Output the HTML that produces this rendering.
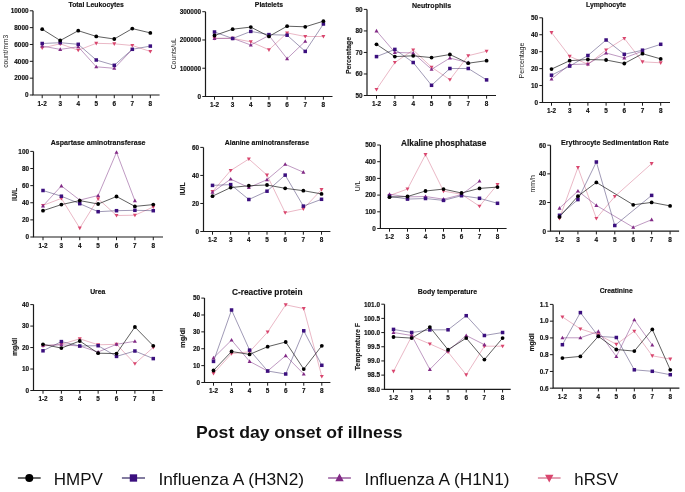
<!DOCTYPE html>
<html><head><meta charset="utf-8"><style>
html,body{margin:0;padding:0;background:#fff;}
svg{display:block;will-change:transform;}
text{font-family:"Liberation Sans",sans-serif;}
</style></head><body>
<svg width="685" height="492" viewBox="0 0 685 492">
<rect width="685" height="492" fill="#fff"/>
<g><path d="M33 10.8V95H159.6" fill="none" stroke="#1a1a1a" stroke-width="1.2"/><path d="M29.8 95H33" stroke="#1a1a1a" stroke-width="1.0"/><text x="28.5" y="97.3" text-anchor="end" font-size="6.4" font-weight="bold" fill="#111" stroke="#111" stroke-width="0.15">0</text><path d="M29.8 78.16H33" stroke="#1a1a1a" stroke-width="1.0"/><text x="28.5" y="80.46" text-anchor="end" font-size="6.4" font-weight="bold" fill="#111" stroke="#111" stroke-width="0.15">2000</text><path d="M29.8 61.32H33" stroke="#1a1a1a" stroke-width="1.0"/><text x="28.5" y="63.62" text-anchor="end" font-size="6.4" font-weight="bold" fill="#111" stroke="#111" stroke-width="0.15">4000</text><path d="M29.8 44.48H33" stroke="#1a1a1a" stroke-width="1.0"/><text x="28.5" y="46.78" text-anchor="end" font-size="6.4" font-weight="bold" fill="#111" stroke="#111" stroke-width="0.15">6000</text><path d="M29.8 27.64H33" stroke="#1a1a1a" stroke-width="1.0"/><text x="28.5" y="29.94" text-anchor="end" font-size="6.4" font-weight="bold" fill="#111" stroke="#111" stroke-width="0.15">8000</text><path d="M29.8 10.8H33" stroke="#1a1a1a" stroke-width="1.0"/><text x="28.5" y="13.1" text-anchor="end" font-size="6.4" font-weight="bold" fill="#111" stroke="#111" stroke-width="0.15">10000</text><path d="M42.2 95v3.2" stroke="#1a1a1a" stroke-width="1.0"/><text x="42.2" y="105.7" text-anchor="middle" font-size="6.4" font-weight="bold" fill="#111" stroke="#111" stroke-width="0.15">1-2</text><path d="M60.22 95v3.2" stroke="#1a1a1a" stroke-width="1.0"/><text x="60.22" y="105.7" text-anchor="middle" font-size="6.4" font-weight="bold" fill="#111" stroke="#111" stroke-width="0.15">3</text><path d="M78.24 95v3.2" stroke="#1a1a1a" stroke-width="1.0"/><text x="78.24" y="105.7" text-anchor="middle" font-size="6.4" font-weight="bold" fill="#111" stroke="#111" stroke-width="0.15">4</text><path d="M96.26 95v3.2" stroke="#1a1a1a" stroke-width="1.0"/><text x="96.26" y="105.7" text-anchor="middle" font-size="6.4" font-weight="bold" fill="#111" stroke="#111" stroke-width="0.15">5</text><path d="M114.28 95v3.2" stroke="#1a1a1a" stroke-width="1.0"/><text x="114.28" y="105.7" text-anchor="middle" font-size="6.4" font-weight="bold" fill="#111" stroke="#111" stroke-width="0.15">6</text><path d="M132.3 95v3.2" stroke="#1a1a1a" stroke-width="1.0"/><text x="132.3" y="105.7" text-anchor="middle" font-size="6.4" font-weight="bold" fill="#111" stroke="#111" stroke-width="0.15">7</text><path d="M150.32 95v3.2" stroke="#1a1a1a" stroke-width="1.0"/><text x="150.32" y="105.7" text-anchor="middle" font-size="6.4" font-weight="bold" fill="#111" stroke="#111" stroke-width="0.15">8</text><text x="96.2" y="7.2" text-anchor="middle" font-size="6.85" font-weight="bold" fill="#111" stroke="#111" stroke-width="0.15">Total Leukocytes</text><text transform="translate(7.9 51.2) rotate(-90)" text-anchor="middle" font-size="6.7" font-weight="normal" fill="#1a1a1a">count/mm3</text><path d="M42.2 48L60.22 43.8L78.24 50.2L96.26 43.3L114.28 43.8L132.3 45.5L150.32 51.5" fill="none" stroke="#d4708c" stroke-width="0.5"/><path d="M42.2 46L60.22 49.4L78.24 46.8L96.26 66.8L114.28 68.3L132.3 49.5" fill="none" stroke="#8a4590" stroke-width="0.55"/><path d="M42.2 43.5L60.22 42.7L78.24 44.3L96.26 60L114.28 65.3L132.3 49.3L150.32 46.1" fill="none" stroke="#40356c" stroke-width="0.5"/><path d="M42.2 29.2L60.22 40.5L78.24 30.7L96.26 36.4L114.28 39L132.3 28.6L150.32 32.9" fill="none" stroke="#1a1a1a" stroke-width="0.7"/><path d="M42.2 50.1L44.2 46.5L40.2 46.5Z" fill="#d9466e"/><path d="M60.22 45.9L62.22 42.3L58.22 42.3Z" fill="#d9466e"/><path d="M78.24 52.3L80.24 48.7L76.24 48.7Z" fill="#d9466e"/><path d="M96.26 45.4L98.26 41.8L94.26 41.8Z" fill="#d9466e"/><path d="M114.28 45.9L116.28 42.3L112.28 42.3Z" fill="#d9466e"/><path d="M132.3 47.6L134.3 44L130.3 44Z" fill="#d9466e"/><path d="M150.32 53.6L152.32 50L148.32 50Z" fill="#d9466e"/><path d="M42.2 43.9L44.2 47.5L40.2 47.5Z" fill="#822a86"/><path d="M60.22 47.3L62.22 50.9L58.22 50.9Z" fill="#822a86"/><path d="M78.24 44.7L80.24 48.3L76.24 48.3Z" fill="#822a86"/><path d="M96.26 64.7L98.26 68.3L94.26 68.3Z" fill="#822a86"/><path d="M114.28 66.2L116.28 69.8L112.28 69.8Z" fill="#822a86"/><path d="M132.3 47.4L134.3 51L130.3 51Z" fill="#822a86"/><rect x="40.45" y="41.75" width="3.5" height="3.5" fill="#3b0f7e"/><rect x="58.47" y="40.95" width="3.5" height="3.5" fill="#3b0f7e"/><rect x="76.49" y="42.55" width="3.5" height="3.5" fill="#3b0f7e"/><rect x="94.51" y="58.25" width="3.5" height="3.5" fill="#3b0f7e"/><rect x="112.53" y="63.55" width="3.5" height="3.5" fill="#3b0f7e"/><rect x="130.55" y="47.55" width="3.5" height="3.5" fill="#3b0f7e"/><rect x="148.57" y="44.35" width="3.5" height="3.5" fill="#3b0f7e"/><circle cx="42.2" cy="29.2" r="1.9" fill="#000000"/><circle cx="60.22" cy="40.5" r="1.9" fill="#000000"/><circle cx="78.24" cy="30.7" r="1.9" fill="#000000"/><circle cx="96.26" cy="36.4" r="1.9" fill="#000000"/><circle cx="114.28" cy="39" r="1.9" fill="#000000"/><circle cx="132.3" cy="28.6" r="1.9" fill="#000000"/><circle cx="150.32" cy="32.9" r="1.9" fill="#000000"/></g><g><path d="M205.5 11.7V96.5H332.5" fill="none" stroke="#1a1a1a" stroke-width="1.2"/><path d="M202.3 96.5H205.5" stroke="#1a1a1a" stroke-width="1.0"/><text x="201" y="98.8" text-anchor="end" font-size="6.4" font-weight="bold" fill="#111" stroke="#111" stroke-width="0.15">0</text><path d="M202.3 68.23H205.5" stroke="#1a1a1a" stroke-width="1.0"/><text x="201" y="70.53" text-anchor="end" font-size="6.4" font-weight="bold" fill="#111" stroke="#111" stroke-width="0.15">100000</text><path d="M202.3 39.97H205.5" stroke="#1a1a1a" stroke-width="1.0"/><text x="201" y="42.27" text-anchor="end" font-size="6.4" font-weight="bold" fill="#111" stroke="#111" stroke-width="0.15">200000</text><path d="M202.3 11.7H205.5" stroke="#1a1a1a" stroke-width="1.0"/><text x="201" y="14" text-anchor="end" font-size="6.4" font-weight="bold" fill="#111" stroke="#111" stroke-width="0.15">300000</text><path d="M214.5 96.5v3.2" stroke="#1a1a1a" stroke-width="1.0"/><text x="214.5" y="107.2" text-anchor="middle" font-size="6.4" font-weight="bold" fill="#111" stroke="#111" stroke-width="0.15">1-2</text><path d="M232.65 96.5v3.2" stroke="#1a1a1a" stroke-width="1.0"/><text x="232.65" y="107.2" text-anchor="middle" font-size="6.4" font-weight="bold" fill="#111" stroke="#111" stroke-width="0.15">3</text><path d="M250.8 96.5v3.2" stroke="#1a1a1a" stroke-width="1.0"/><text x="250.8" y="107.2" text-anchor="middle" font-size="6.4" font-weight="bold" fill="#111" stroke="#111" stroke-width="0.15">4</text><path d="M268.95 96.5v3.2" stroke="#1a1a1a" stroke-width="1.0"/><text x="268.95" y="107.2" text-anchor="middle" font-size="6.4" font-weight="bold" fill="#111" stroke="#111" stroke-width="0.15">5</text><path d="M287.1 96.5v3.2" stroke="#1a1a1a" stroke-width="1.0"/><text x="287.1" y="107.2" text-anchor="middle" font-size="6.4" font-weight="bold" fill="#111" stroke="#111" stroke-width="0.15">6</text><path d="M305.25 96.5v3.2" stroke="#1a1a1a" stroke-width="1.0"/><text x="305.25" y="107.2" text-anchor="middle" font-size="6.4" font-weight="bold" fill="#111" stroke="#111" stroke-width="0.15">7</text><path d="M323.4 96.5v3.2" stroke="#1a1a1a" stroke-width="1.0"/><text x="323.4" y="107.2" text-anchor="middle" font-size="6.4" font-weight="bold" fill="#111" stroke="#111" stroke-width="0.15">8</text><text x="268.95" y="7.4" text-anchor="middle" font-size="6.85" font-weight="bold" fill="#111" stroke="#111" stroke-width="0.15">Platelets</text><text transform="translate(175.53 53.8) rotate(-90)" text-anchor="middle" font-size="6.8" font-weight="normal" fill="#1a1a1a">Counts/uL</text><path d="M214.5 38.3L232.65 38.3L250.8 41.8L268.95 49.8L287.1 32.9L305.25 36.5L323.4 36.5" fill="none" stroke="#d4708c" stroke-width="0.5"/><path d="M214.5 38.5L232.65 38.3L250.8 45L268.95 35.5L287.1 58.7L305.25 41.3" fill="none" stroke="#8a4590" stroke-width="0.55"/><path d="M214.5 32L232.65 38.5L250.8 31.4L268.95 34.6L287.1 35.2L305.25 51.4L323.4 24" fill="none" stroke="#40356c" stroke-width="0.5"/><path d="M214.5 35.5L232.65 29.2L250.8 27.1L268.95 36.4L287.1 26.2L305.25 26.8L323.4 21.2" fill="none" stroke="#1a1a1a" stroke-width="0.7"/><path d="M214.5 40.4L216.5 36.8L212.5 36.8Z" fill="#d9466e"/><path d="M232.65 40.4L234.65 36.8L230.65 36.8Z" fill="#d9466e"/><path d="M250.8 43.9L252.8 40.3L248.8 40.3Z" fill="#d9466e"/><path d="M268.95 51.9L270.95 48.3L266.95 48.3Z" fill="#d9466e"/><path d="M287.1 35L289.1 31.4L285.1 31.4Z" fill="#d9466e"/><path d="M305.25 38.6L307.25 35L303.25 35Z" fill="#d9466e"/><path d="M323.4 38.6L325.4 35L321.4 35Z" fill="#d9466e"/><path d="M214.5 36.4L216.5 40L212.5 40Z" fill="#822a86"/><path d="M232.65 36.2L234.65 39.8L230.65 39.8Z" fill="#822a86"/><path d="M250.8 42.9L252.8 46.5L248.8 46.5Z" fill="#822a86"/><path d="M268.95 33.4L270.95 37L266.95 37Z" fill="#822a86"/><path d="M287.1 56.6L289.1 60.2L285.1 60.2Z" fill="#822a86"/><path d="M305.25 39.2L307.25 42.8L303.25 42.8Z" fill="#822a86"/><rect x="212.75" y="30.25" width="3.5" height="3.5" fill="#3b0f7e"/><rect x="230.9" y="36.75" width="3.5" height="3.5" fill="#3b0f7e"/><rect x="249.05" y="29.65" width="3.5" height="3.5" fill="#3b0f7e"/><rect x="267.2" y="32.85" width="3.5" height="3.5" fill="#3b0f7e"/><rect x="285.35" y="33.45" width="3.5" height="3.5" fill="#3b0f7e"/><rect x="303.5" y="49.65" width="3.5" height="3.5" fill="#3b0f7e"/><rect x="321.65" y="22.25" width="3.5" height="3.5" fill="#3b0f7e"/><circle cx="214.5" cy="35.5" r="1.9" fill="#000000"/><circle cx="232.65" cy="29.2" r="1.9" fill="#000000"/><circle cx="250.8" cy="27.1" r="1.9" fill="#000000"/><circle cx="268.95" cy="36.4" r="1.9" fill="#000000"/><circle cx="287.1" cy="26.2" r="1.9" fill="#000000"/><circle cx="305.25" cy="26.8" r="1.9" fill="#000000"/><circle cx="323.4" cy="21.2" r="1.9" fill="#000000"/></g><g><path d="M367 9.4V95.5H496" fill="none" stroke="#1a1a1a" stroke-width="1.2"/><path d="M363.8 95.5H367" stroke="#1a1a1a" stroke-width="1.0"/><text x="362.5" y="97.8" text-anchor="end" font-size="6.4" font-weight="bold" fill="#111" stroke="#111" stroke-width="0.15">50</text><path d="M363.8 73.97H367" stroke="#1a1a1a" stroke-width="1.0"/><text x="362.5" y="76.27" text-anchor="end" font-size="6.4" font-weight="bold" fill="#111" stroke="#111" stroke-width="0.15">60</text><path d="M363.8 52.45H367" stroke="#1a1a1a" stroke-width="1.0"/><text x="362.5" y="54.75" text-anchor="end" font-size="6.4" font-weight="bold" fill="#111" stroke="#111" stroke-width="0.15">70</text><path d="M363.8 30.93H367" stroke="#1a1a1a" stroke-width="1.0"/><text x="362.5" y="33.23" text-anchor="end" font-size="6.4" font-weight="bold" fill="#111" stroke="#111" stroke-width="0.15">80</text><path d="M363.8 9.4H367" stroke="#1a1a1a" stroke-width="1.0"/><text x="362.5" y="11.7" text-anchor="end" font-size="6.4" font-weight="bold" fill="#111" stroke="#111" stroke-width="0.15">90</text><path d="M376.5 95.5v3.2" stroke="#1a1a1a" stroke-width="1.0"/><text x="376.5" y="106.2" text-anchor="middle" font-size="6.4" font-weight="bold" fill="#111" stroke="#111" stroke-width="0.15">1-2</text><path d="M394.85 95.5v3.2" stroke="#1a1a1a" stroke-width="1.0"/><text x="394.85" y="106.2" text-anchor="middle" font-size="6.4" font-weight="bold" fill="#111" stroke="#111" stroke-width="0.15">3</text><path d="M413.2 95.5v3.2" stroke="#1a1a1a" stroke-width="1.0"/><text x="413.2" y="106.2" text-anchor="middle" font-size="6.4" font-weight="bold" fill="#111" stroke="#111" stroke-width="0.15">4</text><path d="M431.55 95.5v3.2" stroke="#1a1a1a" stroke-width="1.0"/><text x="431.55" y="106.2" text-anchor="middle" font-size="6.4" font-weight="bold" fill="#111" stroke="#111" stroke-width="0.15">5</text><path d="M449.9 95.5v3.2" stroke="#1a1a1a" stroke-width="1.0"/><text x="449.9" y="106.2" text-anchor="middle" font-size="6.4" font-weight="bold" fill="#111" stroke="#111" stroke-width="0.15">6</text><path d="M468.25 95.5v3.2" stroke="#1a1a1a" stroke-width="1.0"/><text x="468.25" y="106.2" text-anchor="middle" font-size="6.4" font-weight="bold" fill="#111" stroke="#111" stroke-width="0.15">7</text><path d="M486.6 95.5v3.2" stroke="#1a1a1a" stroke-width="1.0"/><text x="486.6" y="106.2" text-anchor="middle" font-size="6.4" font-weight="bold" fill="#111" stroke="#111" stroke-width="0.15">8</text><text x="431.5" y="7.5" text-anchor="middle" font-size="7.05" font-weight="bold" fill="#111" stroke="#111" stroke-width="0.15">Neutrophils</text><text transform="translate(350.64 55.5) rotate(-90)" text-anchor="middle" font-size="6.9" font-weight="bold" fill="#1a1a1a" stroke="#1a1a1a" stroke-width="0.15">Percentage</text><path d="M376.5 89.4L394.85 62.5L413.2 50L431.55 67.2L449.9 79.7L468.25 55.7L486.6 51.2" fill="none" stroke="#d4708c" stroke-width="0.5"/><path d="M376.5 30.9L394.85 52.4L413.2 53L431.55 69.3L449.9 58.1L468.25 62.7" fill="none" stroke="#8a4590" stroke-width="0.55"/><path d="M376.5 56.6L394.85 49.4L413.2 62.5L431.55 85.3L449.9 68.5L468.25 68.5L486.6 79.9" fill="none" stroke="#40356c" stroke-width="0.5"/><path d="M376.5 44.3L394.85 56.6L413.2 55.8L431.55 57.6L449.9 54.5L468.25 63.2L486.6 60.7" fill="none" stroke="#1a1a1a" stroke-width="0.7"/><path d="M376.5 91.5L378.5 87.9L374.5 87.9Z" fill="#d9466e"/><path d="M394.85 64.6L396.85 61L392.85 61Z" fill="#d9466e"/><path d="M413.2 52.1L415.2 48.5L411.2 48.5Z" fill="#d9466e"/><path d="M431.55 69.3L433.55 65.7L429.55 65.7Z" fill="#d9466e"/><path d="M449.9 81.8L451.9 78.2L447.9 78.2Z" fill="#d9466e"/><path d="M468.25 57.8L470.25 54.2L466.25 54.2Z" fill="#d9466e"/><path d="M486.6 53.3L488.6 49.7L484.6 49.7Z" fill="#d9466e"/><path d="M376.5 28.8L378.5 32.4L374.5 32.4Z" fill="#822a86"/><path d="M394.85 50.3L396.85 53.9L392.85 53.9Z" fill="#822a86"/><path d="M413.2 50.9L415.2 54.5L411.2 54.5Z" fill="#822a86"/><path d="M431.55 67.2L433.55 70.8L429.55 70.8Z" fill="#822a86"/><path d="M449.9 56L451.9 59.6L447.9 59.6Z" fill="#822a86"/><path d="M468.25 60.6L470.25 64.2L466.25 64.2Z" fill="#822a86"/><rect x="374.75" y="54.85" width="3.5" height="3.5" fill="#3b0f7e"/><rect x="393.1" y="47.65" width="3.5" height="3.5" fill="#3b0f7e"/><rect x="411.45" y="60.75" width="3.5" height="3.5" fill="#3b0f7e"/><rect x="429.8" y="83.55" width="3.5" height="3.5" fill="#3b0f7e"/><rect x="448.15" y="66.75" width="3.5" height="3.5" fill="#3b0f7e"/><rect x="466.5" y="66.75" width="3.5" height="3.5" fill="#3b0f7e"/><rect x="484.85" y="78.15" width="3.5" height="3.5" fill="#3b0f7e"/><circle cx="376.5" cy="44.3" r="1.9" fill="#000000"/><circle cx="394.85" cy="56.6" r="1.9" fill="#000000"/><circle cx="413.2" cy="55.8" r="1.9" fill="#000000"/><circle cx="431.55" cy="57.6" r="1.9" fill="#000000"/><circle cx="449.9" cy="54.5" r="1.9" fill="#000000"/><circle cx="468.25" cy="63.2" r="1.9" fill="#000000"/><circle cx="486.6" cy="60.7" r="1.9" fill="#000000"/></g><g><path d="M542.5 17.8V102.5H670" fill="none" stroke="#1a1a1a" stroke-width="1.2"/><path d="M539.3 102.5H542.5" stroke="#1a1a1a" stroke-width="1.0"/><text x="538" y="104.8" text-anchor="end" font-size="6.4" font-weight="bold" fill="#111" stroke="#111" stroke-width="0.15">0</text><path d="M539.3 85.56H542.5" stroke="#1a1a1a" stroke-width="1.0"/><text x="538" y="87.86" text-anchor="end" font-size="6.4" font-weight="bold" fill="#111" stroke="#111" stroke-width="0.15">10</text><path d="M539.3 68.62H542.5" stroke="#1a1a1a" stroke-width="1.0"/><text x="538" y="70.92" text-anchor="end" font-size="6.4" font-weight="bold" fill="#111" stroke="#111" stroke-width="0.15">20</text><path d="M539.3 51.68H542.5" stroke="#1a1a1a" stroke-width="1.0"/><text x="538" y="53.98" text-anchor="end" font-size="6.4" font-weight="bold" fill="#111" stroke="#111" stroke-width="0.15">30</text><path d="M539.3 34.74H542.5" stroke="#1a1a1a" stroke-width="1.0"/><text x="538" y="37.04" text-anchor="end" font-size="6.4" font-weight="bold" fill="#111" stroke="#111" stroke-width="0.15">40</text><path d="M539.3 17.8H542.5" stroke="#1a1a1a" stroke-width="1.0"/><text x="538" y="20.1" text-anchor="end" font-size="6.4" font-weight="bold" fill="#111" stroke="#111" stroke-width="0.15">50</text><path d="M551.5 102.5v3.2" stroke="#1a1a1a" stroke-width="1.0"/><text x="551.5" y="113.2" text-anchor="middle" font-size="6.4" font-weight="bold" fill="#111" stroke="#111" stroke-width="0.15">1-2</text><path d="M569.7 102.5v3.2" stroke="#1a1a1a" stroke-width="1.0"/><text x="569.7" y="113.2" text-anchor="middle" font-size="6.4" font-weight="bold" fill="#111" stroke="#111" stroke-width="0.15">3</text><path d="M587.9 102.5v3.2" stroke="#1a1a1a" stroke-width="1.0"/><text x="587.9" y="113.2" text-anchor="middle" font-size="6.4" font-weight="bold" fill="#111" stroke="#111" stroke-width="0.15">4</text><path d="M606.1 102.5v3.2" stroke="#1a1a1a" stroke-width="1.0"/><text x="606.1" y="113.2" text-anchor="middle" font-size="6.4" font-weight="bold" fill="#111" stroke="#111" stroke-width="0.15">5</text><path d="M624.3 102.5v3.2" stroke="#1a1a1a" stroke-width="1.0"/><text x="624.3" y="113.2" text-anchor="middle" font-size="6.4" font-weight="bold" fill="#111" stroke="#111" stroke-width="0.15">6</text><path d="M642.5 102.5v3.2" stroke="#1a1a1a" stroke-width="1.0"/><text x="642.5" y="113.2" text-anchor="middle" font-size="6.4" font-weight="bold" fill="#111" stroke="#111" stroke-width="0.15">7</text><path d="M660.7 102.5v3.2" stroke="#1a1a1a" stroke-width="1.0"/><text x="660.7" y="113.2" text-anchor="middle" font-size="6.4" font-weight="bold" fill="#111" stroke="#111" stroke-width="0.15">8</text><text x="606" y="7.2" text-anchor="middle" font-size="6.85" font-weight="bold" fill="#111" stroke="#111" stroke-width="0.15">Lymphocyte</text><text transform="translate(523.88 60.5) rotate(-90)" text-anchor="middle" font-size="7" font-weight="normal" fill="#1a1a1a">Percentage</text><path d="M551.5 32.6L569.7 56.3L587.9 64.3L606.1 50L624.3 38.4L642.5 61.8L660.7 62.8" fill="none" stroke="#d4708c" stroke-width="0.5"/><path d="M551.5 79L569.7 64.6L587.9 64L606.1 53L624.3 57.9L642.5 51.2" fill="none" stroke="#8a4590" stroke-width="0.55"/><path d="M551.5 75.2L569.7 66.1L587.9 55.5L606.1 40L624.3 54.3L642.5 50.2L660.7 44.3" fill="none" stroke="#40356c" stroke-width="0.5"/><path d="M551.5 69.1L569.7 60.7L587.9 59.5L606.1 60L624.3 63.5L642.5 53.7L660.7 58.9" fill="none" stroke="#1a1a1a" stroke-width="0.7"/><path d="M551.5 34.7L553.5 31.1L549.5 31.1Z" fill="#d9466e"/><path d="M569.7 58.4L571.7 54.8L567.7 54.8Z" fill="#d9466e"/><path d="M587.9 66.4L589.9 62.8L585.9 62.8Z" fill="#d9466e"/><path d="M606.1 52.1L608.1 48.5L604.1 48.5Z" fill="#d9466e"/><path d="M624.3 40.5L626.3 36.9L622.3 36.9Z" fill="#d9466e"/><path d="M642.5 63.9L644.5 60.3L640.5 60.3Z" fill="#d9466e"/><path d="M660.7 64.9L662.7 61.3L658.7 61.3Z" fill="#d9466e"/><path d="M551.5 76.9L553.5 80.5L549.5 80.5Z" fill="#822a86"/><path d="M569.7 62.5L571.7 66.1L567.7 66.1Z" fill="#822a86"/><path d="M587.9 61.9L589.9 65.5L585.9 65.5Z" fill="#822a86"/><path d="M606.1 50.9L608.1 54.5L604.1 54.5Z" fill="#822a86"/><path d="M624.3 55.8L626.3 59.4L622.3 59.4Z" fill="#822a86"/><path d="M642.5 49.1L644.5 52.7L640.5 52.7Z" fill="#822a86"/><rect x="549.75" y="73.45" width="3.5" height="3.5" fill="#3b0f7e"/><rect x="567.95" y="64.35" width="3.5" height="3.5" fill="#3b0f7e"/><rect x="586.15" y="53.75" width="3.5" height="3.5" fill="#3b0f7e"/><rect x="604.35" y="38.25" width="3.5" height="3.5" fill="#3b0f7e"/><rect x="622.55" y="52.55" width="3.5" height="3.5" fill="#3b0f7e"/><rect x="640.75" y="48.45" width="3.5" height="3.5" fill="#3b0f7e"/><rect x="658.95" y="42.55" width="3.5" height="3.5" fill="#3b0f7e"/><circle cx="551.5" cy="69.1" r="1.9" fill="#000000"/><circle cx="569.7" cy="60.7" r="1.9" fill="#000000"/><circle cx="587.9" cy="59.5" r="1.9" fill="#000000"/><circle cx="606.1" cy="60" r="1.9" fill="#000000"/><circle cx="624.3" cy="63.5" r="1.9" fill="#000000"/><circle cx="642.5" cy="53.7" r="1.9" fill="#000000"/><circle cx="660.7" cy="58.9" r="1.9" fill="#000000"/></g><g><path d="M33.5 151.4V237H163" fill="none" stroke="#1a1a1a" stroke-width="1.2"/><path d="M30.3 237H33.5" stroke="#1a1a1a" stroke-width="1.0"/><text x="29" y="239.3" text-anchor="end" font-size="6.4" font-weight="bold" fill="#111" stroke="#111" stroke-width="0.15">0</text><path d="M30.3 219.88H33.5" stroke="#1a1a1a" stroke-width="1.0"/><text x="29" y="222.18" text-anchor="end" font-size="6.4" font-weight="bold" fill="#111" stroke="#111" stroke-width="0.15">20</text><path d="M30.3 202.76H33.5" stroke="#1a1a1a" stroke-width="1.0"/><text x="29" y="205.06" text-anchor="end" font-size="6.4" font-weight="bold" fill="#111" stroke="#111" stroke-width="0.15">40</text><path d="M30.3 185.64H33.5" stroke="#1a1a1a" stroke-width="1.0"/><text x="29" y="187.94" text-anchor="end" font-size="6.4" font-weight="bold" fill="#111" stroke="#111" stroke-width="0.15">60</text><path d="M30.3 168.52H33.5" stroke="#1a1a1a" stroke-width="1.0"/><text x="29" y="170.82" text-anchor="end" font-size="6.4" font-weight="bold" fill="#111" stroke="#111" stroke-width="0.15">80</text><path d="M30.3 151.4H33.5" stroke="#1a1a1a" stroke-width="1.0"/><text x="29" y="153.7" text-anchor="end" font-size="6.4" font-weight="bold" fill="#111" stroke="#111" stroke-width="0.15">100</text><path d="M43 237v3.2" stroke="#1a1a1a" stroke-width="1.0"/><text x="43" y="247.7" text-anchor="middle" font-size="6.4" font-weight="bold" fill="#111" stroke="#111" stroke-width="0.15">1-2</text><path d="M61.38 237v3.2" stroke="#1a1a1a" stroke-width="1.0"/><text x="61.38" y="247.7" text-anchor="middle" font-size="6.4" font-weight="bold" fill="#111" stroke="#111" stroke-width="0.15">3</text><path d="M79.76 237v3.2" stroke="#1a1a1a" stroke-width="1.0"/><text x="79.76" y="247.7" text-anchor="middle" font-size="6.4" font-weight="bold" fill="#111" stroke="#111" stroke-width="0.15">4</text><path d="M98.14 237v3.2" stroke="#1a1a1a" stroke-width="1.0"/><text x="98.14" y="247.7" text-anchor="middle" font-size="6.4" font-weight="bold" fill="#111" stroke="#111" stroke-width="0.15">5</text><path d="M116.52 237v3.2" stroke="#1a1a1a" stroke-width="1.0"/><text x="116.52" y="247.7" text-anchor="middle" font-size="6.4" font-weight="bold" fill="#111" stroke="#111" stroke-width="0.15">6</text><path d="M134.9 237v3.2" stroke="#1a1a1a" stroke-width="1.0"/><text x="134.9" y="247.7" text-anchor="middle" font-size="6.4" font-weight="bold" fill="#111" stroke="#111" stroke-width="0.15">7</text><path d="M153.28 237v3.2" stroke="#1a1a1a" stroke-width="1.0"/><text x="153.28" y="247.7" text-anchor="middle" font-size="6.4" font-weight="bold" fill="#111" stroke="#111" stroke-width="0.15">8</text><text x="98.1" y="145" text-anchor="middle" font-size="7.05" font-weight="bold" fill="#111" stroke="#111" stroke-width="0.15">Aspartase aminotransferase</text><text transform="translate(17.03 194.4) rotate(-90)" text-anchor="middle" font-size="6.9" font-weight="bold" fill="#1a1a1a" stroke="#1a1a1a" stroke-width="0.15">IU/L</text><path d="M43 205.4L61.38 198.4L79.76 228.1L98.14 198.8L116.52 215.5L134.9 215.2L153.28 207" fill="none" stroke="#d4708c" stroke-width="0.5"/><path d="M43 205.9L61.38 185.9L79.76 200.1L98.14 195.5L116.52 152.3L134.9 200.7" fill="none" stroke="#8a4590" stroke-width="0.55"/><path d="M43 190.5L61.38 196.2L79.76 203.7L98.14 211.7L116.52 210.7L134.9 210.3L153.28 210.7" fill="none" stroke="#40356c" stroke-width="0.5"/><path d="M43 210.7L61.38 204.6L79.76 200.6L98.14 204L116.52 196.5L134.9 206.4L153.28 204.6" fill="none" stroke="#1a1a1a" stroke-width="0.7"/><path d="M43 207.5L45 203.9L41 203.9Z" fill="#d9466e"/><path d="M61.38 200.5L63.38 196.9L59.38 196.9Z" fill="#d9466e"/><path d="M79.76 230.2L81.76 226.6L77.76 226.6Z" fill="#d9466e"/><path d="M98.14 200.9L100.14 197.3L96.14 197.3Z" fill="#d9466e"/><path d="M116.52 217.6L118.52 214L114.52 214Z" fill="#d9466e"/><path d="M134.9 217.3L136.9 213.7L132.9 213.7Z" fill="#d9466e"/><path d="M153.28 209.1L155.28 205.5L151.28 205.5Z" fill="#d9466e"/><path d="M43 203.8L45 207.4L41 207.4Z" fill="#822a86"/><path d="M61.38 183.8L63.38 187.4L59.38 187.4Z" fill="#822a86"/><path d="M79.76 198L81.76 201.6L77.76 201.6Z" fill="#822a86"/><path d="M98.14 193.4L100.14 197L96.14 197Z" fill="#822a86"/><path d="M116.52 150.2L118.52 153.8L114.52 153.8Z" fill="#822a86"/><path d="M134.9 198.6L136.9 202.2L132.9 202.2Z" fill="#822a86"/><rect x="41.25" y="188.75" width="3.5" height="3.5" fill="#3b0f7e"/><rect x="59.63" y="194.45" width="3.5" height="3.5" fill="#3b0f7e"/><rect x="78.01" y="201.95" width="3.5" height="3.5" fill="#3b0f7e"/><rect x="96.39" y="209.95" width="3.5" height="3.5" fill="#3b0f7e"/><rect x="114.77" y="208.95" width="3.5" height="3.5" fill="#3b0f7e"/><rect x="133.15" y="208.55" width="3.5" height="3.5" fill="#3b0f7e"/><rect x="151.53" y="208.95" width="3.5" height="3.5" fill="#3b0f7e"/><circle cx="43" cy="210.7" r="1.9" fill="#000000"/><circle cx="61.38" cy="204.6" r="1.9" fill="#000000"/><circle cx="79.76" cy="200.6" r="1.9" fill="#000000"/><circle cx="98.14" cy="204" r="1.9" fill="#000000"/><circle cx="116.52" cy="196.5" r="1.9" fill="#000000"/><circle cx="134.9" cy="206.4" r="1.9" fill="#000000"/><circle cx="153.28" cy="204.6" r="1.9" fill="#000000"/></g><g><path d="M203.5 147.4V231.5H330.4" fill="none" stroke="#1a1a1a" stroke-width="1.2"/><path d="M200.3 231.5H203.5" stroke="#1a1a1a" stroke-width="1.0"/><text x="199" y="233.8" text-anchor="end" font-size="6.4" font-weight="bold" fill="#111" stroke="#111" stroke-width="0.15">0</text><path d="M200.3 203.47H203.5" stroke="#1a1a1a" stroke-width="1.0"/><text x="199" y="205.77" text-anchor="end" font-size="6.4" font-weight="bold" fill="#111" stroke="#111" stroke-width="0.15">20</text><path d="M200.3 175.43H203.5" stroke="#1a1a1a" stroke-width="1.0"/><text x="199" y="177.73" text-anchor="end" font-size="6.4" font-weight="bold" fill="#111" stroke="#111" stroke-width="0.15">40</text><path d="M200.3 147.4H203.5" stroke="#1a1a1a" stroke-width="1.0"/><text x="199" y="149.7" text-anchor="end" font-size="6.4" font-weight="bold" fill="#111" stroke="#111" stroke-width="0.15">60</text><path d="M212.5 231.5v3.2" stroke="#1a1a1a" stroke-width="1.0"/><text x="212.5" y="242.2" text-anchor="middle" font-size="6.4" font-weight="bold" fill="#111" stroke="#111" stroke-width="0.15">1-2</text><path d="M230.67 231.5v3.2" stroke="#1a1a1a" stroke-width="1.0"/><text x="230.67" y="242.2" text-anchor="middle" font-size="6.4" font-weight="bold" fill="#111" stroke="#111" stroke-width="0.15">3</text><path d="M248.84 231.5v3.2" stroke="#1a1a1a" stroke-width="1.0"/><text x="248.84" y="242.2" text-anchor="middle" font-size="6.4" font-weight="bold" fill="#111" stroke="#111" stroke-width="0.15">4</text><path d="M267.01 231.5v3.2" stroke="#1a1a1a" stroke-width="1.0"/><text x="267.01" y="242.2" text-anchor="middle" font-size="6.4" font-weight="bold" fill="#111" stroke="#111" stroke-width="0.15">5</text><path d="M285.18 231.5v3.2" stroke="#1a1a1a" stroke-width="1.0"/><text x="285.18" y="242.2" text-anchor="middle" font-size="6.4" font-weight="bold" fill="#111" stroke="#111" stroke-width="0.15">6</text><path d="M303.35 231.5v3.2" stroke="#1a1a1a" stroke-width="1.0"/><text x="303.35" y="242.2" text-anchor="middle" font-size="6.4" font-weight="bold" fill="#111" stroke="#111" stroke-width="0.15">7</text><path d="M321.52 231.5v3.2" stroke="#1a1a1a" stroke-width="1.0"/><text x="321.52" y="242.2" text-anchor="middle" font-size="6.4" font-weight="bold" fill="#111" stroke="#111" stroke-width="0.15">8</text><text x="266.9" y="145.3" text-anchor="middle" font-size="6.9" font-weight="bold" fill="#111" stroke="#111" stroke-width="0.15">Alanine aminotransferase</text><text transform="translate(185.23 188.8) rotate(-90)" text-anchor="middle" font-size="6.9" font-weight="bold" fill="#1a1a1a" stroke="#1a1a1a" stroke-width="0.15">IU/L</text><path d="M212.5 191.6L230.67 170.5L248.84 159L267.01 175.1L285.18 212.7L303.35 208.8L321.52 189.6" fill="none" stroke="#d4708c" stroke-width="0.5"/><path d="M212.5 192.3L230.67 179.1L248.84 187.6L267.01 179.7L285.18 164.3L303.35 172.2" fill="none" stroke="#8a4590" stroke-width="0.55"/><path d="M212.5 185.4L230.67 184.6L248.84 199.5L267.01 191.2L285.18 175.1L303.35 206.1L321.52 199.3" fill="none" stroke="#40356c" stroke-width="0.5"/><path d="M212.5 196.2L230.67 187.6L248.84 185.7L267.01 185L285.18 188.3L303.35 190.7L321.52 193.9" fill="none" stroke="#1a1a1a" stroke-width="0.7"/><path d="M212.5 193.7L214.5 190.1L210.5 190.1Z" fill="#d9466e"/><path d="M230.67 172.6L232.67 169L228.67 169Z" fill="#d9466e"/><path d="M248.84 161.1L250.84 157.5L246.84 157.5Z" fill="#d9466e"/><path d="M267.01 177.2L269.01 173.6L265.01 173.6Z" fill="#d9466e"/><path d="M285.18 214.8L287.18 211.2L283.18 211.2Z" fill="#d9466e"/><path d="M303.35 210.9L305.35 207.3L301.35 207.3Z" fill="#d9466e"/><path d="M321.52 191.7L323.52 188.1L319.52 188.1Z" fill="#d9466e"/><path d="M212.5 190.2L214.5 193.8L210.5 193.8Z" fill="#822a86"/><path d="M230.67 177L232.67 180.6L228.67 180.6Z" fill="#822a86"/><path d="M248.84 185.5L250.84 189.1L246.84 189.1Z" fill="#822a86"/><path d="M267.01 177.6L269.01 181.2L265.01 181.2Z" fill="#822a86"/><path d="M285.18 162.2L287.18 165.8L283.18 165.8Z" fill="#822a86"/><path d="M303.35 170.1L305.35 173.7L301.35 173.7Z" fill="#822a86"/><rect x="210.75" y="183.65" width="3.5" height="3.5" fill="#3b0f7e"/><rect x="228.92" y="182.85" width="3.5" height="3.5" fill="#3b0f7e"/><rect x="247.09" y="197.75" width="3.5" height="3.5" fill="#3b0f7e"/><rect x="265.26" y="189.45" width="3.5" height="3.5" fill="#3b0f7e"/><rect x="283.43" y="173.35" width="3.5" height="3.5" fill="#3b0f7e"/><rect x="301.6" y="204.35" width="3.5" height="3.5" fill="#3b0f7e"/><rect x="319.77" y="197.55" width="3.5" height="3.5" fill="#3b0f7e"/><circle cx="212.5" cy="196.2" r="1.9" fill="#000000"/><circle cx="230.67" cy="187.6" r="1.9" fill="#000000"/><circle cx="248.84" cy="185.7" r="1.9" fill="#000000"/><circle cx="267.01" cy="185" r="1.9" fill="#000000"/><circle cx="285.18" cy="188.3" r="1.9" fill="#000000"/><circle cx="303.35" cy="190.7" r="1.9" fill="#000000"/><circle cx="321.52" cy="193.9" r="1.9" fill="#000000"/></g><g><path d="M380.4 145V228.5H506.6" fill="none" stroke="#1a1a1a" stroke-width="1.2"/><path d="M377.2 228.5H380.4" stroke="#1a1a1a" stroke-width="1.0"/><text x="375.9" y="230.8" text-anchor="end" font-size="6.4" font-weight="bold" fill="#111" stroke="#111" stroke-width="0.15">0</text><path d="M377.2 211.8H380.4" stroke="#1a1a1a" stroke-width="1.0"/><text x="375.9" y="214.1" text-anchor="end" font-size="6.4" font-weight="bold" fill="#111" stroke="#111" stroke-width="0.15">100</text><path d="M377.2 195.1H380.4" stroke="#1a1a1a" stroke-width="1.0"/><text x="375.9" y="197.4" text-anchor="end" font-size="6.4" font-weight="bold" fill="#111" stroke="#111" stroke-width="0.15">200</text><path d="M377.2 178.4H380.4" stroke="#1a1a1a" stroke-width="1.0"/><text x="375.9" y="180.7" text-anchor="end" font-size="6.4" font-weight="bold" fill="#111" stroke="#111" stroke-width="0.15">300</text><path d="M377.2 161.7H380.4" stroke="#1a1a1a" stroke-width="1.0"/><text x="375.9" y="164" text-anchor="end" font-size="6.4" font-weight="bold" fill="#111" stroke="#111" stroke-width="0.15">400</text><path d="M377.2 145H380.4" stroke="#1a1a1a" stroke-width="1.0"/><text x="375.9" y="147.3" text-anchor="end" font-size="6.4" font-weight="bold" fill="#111" stroke="#111" stroke-width="0.15">500</text><path d="M389.5 228.5v3.2" stroke="#1a1a1a" stroke-width="1.0"/><text x="389.5" y="239.2" text-anchor="middle" font-size="6.4" font-weight="bold" fill="#111" stroke="#111" stroke-width="0.15">1-2</text><path d="M407.5 228.5v3.2" stroke="#1a1a1a" stroke-width="1.0"/><text x="407.5" y="239.2" text-anchor="middle" font-size="6.4" font-weight="bold" fill="#111" stroke="#111" stroke-width="0.15">3</text><path d="M425.5 228.5v3.2" stroke="#1a1a1a" stroke-width="1.0"/><text x="425.5" y="239.2" text-anchor="middle" font-size="6.4" font-weight="bold" fill="#111" stroke="#111" stroke-width="0.15">4</text><path d="M443.5 228.5v3.2" stroke="#1a1a1a" stroke-width="1.0"/><text x="443.5" y="239.2" text-anchor="middle" font-size="6.4" font-weight="bold" fill="#111" stroke="#111" stroke-width="0.15">5</text><path d="M461.5 228.5v3.2" stroke="#1a1a1a" stroke-width="1.0"/><text x="461.5" y="239.2" text-anchor="middle" font-size="6.4" font-weight="bold" fill="#111" stroke="#111" stroke-width="0.15">6</text><path d="M479.5 228.5v3.2" stroke="#1a1a1a" stroke-width="1.0"/><text x="479.5" y="239.2" text-anchor="middle" font-size="6.4" font-weight="bold" fill="#111" stroke="#111" stroke-width="0.15">7</text><path d="M497.5 228.5v3.2" stroke="#1a1a1a" stroke-width="1.0"/><text x="497.5" y="239.2" text-anchor="middle" font-size="6.4" font-weight="bold" fill="#111" stroke="#111" stroke-width="0.15">8</text><text x="443.65" y="146.4" text-anchor="middle" font-size="8.3" font-weight="bold" fill="#111" stroke="#111" stroke-width="0.15">Alkaline phosphatase</text><text transform="translate(360.33 186) rotate(-90)" text-anchor="middle" font-size="6.8" font-weight="normal" fill="#1a1a1a">U/L</text><path d="M389.5 195.6L407.5 189L425.5 154.6L443.5 191.1L461.5 194.3L479.5 206.2L497.5 184.4" fill="none" stroke="#d4708c" stroke-width="0.5"/><path d="M389.5 194.3L407.5 196.9L425.5 196.5L443.5 199.2L461.5 194.6L479.5 181.1" fill="none" stroke="#8a4590" stroke-width="0.55"/><path d="M389.5 196.2L407.5 199.1L425.5 198.5L443.5 200.4L461.5 195.7L479.5 198.3L497.5 203.3" fill="none" stroke="#40356c" stroke-width="0.5"/><path d="M389.5 197.2L407.5 196.5L425.5 191L443.5 189.1L461.5 193L479.5 188.4L497.5 187.1" fill="none" stroke="#1a1a1a" stroke-width="0.7"/><path d="M389.5 197.7L391.5 194.1L387.5 194.1Z" fill="#d9466e"/><path d="M407.5 191.1L409.5 187.5L405.5 187.5Z" fill="#d9466e"/><path d="M425.5 156.7L427.5 153.1L423.5 153.1Z" fill="#d9466e"/><path d="M443.5 193.2L445.5 189.6L441.5 189.6Z" fill="#d9466e"/><path d="M461.5 196.4L463.5 192.8L459.5 192.8Z" fill="#d9466e"/><path d="M479.5 208.3L481.5 204.7L477.5 204.7Z" fill="#d9466e"/><path d="M497.5 186.5L499.5 182.9L495.5 182.9Z" fill="#d9466e"/><path d="M389.5 192.2L391.5 195.8L387.5 195.8Z" fill="#822a86"/><path d="M407.5 194.8L409.5 198.4L405.5 198.4Z" fill="#822a86"/><path d="M425.5 194.4L427.5 198L423.5 198Z" fill="#822a86"/><path d="M443.5 197.1L445.5 200.7L441.5 200.7Z" fill="#822a86"/><path d="M461.5 192.5L463.5 196.1L459.5 196.1Z" fill="#822a86"/><path d="M479.5 179L481.5 182.6L477.5 182.6Z" fill="#822a86"/><rect x="387.75" y="194.45" width="3.5" height="3.5" fill="#3b0f7e"/><rect x="405.75" y="197.35" width="3.5" height="3.5" fill="#3b0f7e"/><rect x="423.75" y="196.75" width="3.5" height="3.5" fill="#3b0f7e"/><rect x="441.75" y="198.65" width="3.5" height="3.5" fill="#3b0f7e"/><rect x="459.75" y="193.95" width="3.5" height="3.5" fill="#3b0f7e"/><rect x="477.75" y="196.55" width="3.5" height="3.5" fill="#3b0f7e"/><rect x="495.75" y="201.55" width="3.5" height="3.5" fill="#3b0f7e"/><circle cx="389.5" cy="197.2" r="1.9" fill="#000000"/><circle cx="407.5" cy="196.5" r="1.9" fill="#000000"/><circle cx="425.5" cy="191" r="1.9" fill="#000000"/><circle cx="443.5" cy="189.1" r="1.9" fill="#000000"/><circle cx="461.5" cy="193" r="1.9" fill="#000000"/><circle cx="479.5" cy="188.4" r="1.9" fill="#000000"/><circle cx="497.5" cy="187.1" r="1.9" fill="#000000"/></g><g><path d="M550.5 145.2V231.2H679.1" fill="none" stroke="#1a1a1a" stroke-width="1.2"/><path d="M547.3 231.2H550.5" stroke="#1a1a1a" stroke-width="1.0"/><text x="546" y="233.5" text-anchor="end" font-size="6.4" font-weight="bold" fill="#111" stroke="#111" stroke-width="0.15">0</text><path d="M547.3 202.53H550.5" stroke="#1a1a1a" stroke-width="1.0"/><text x="546" y="204.83" text-anchor="end" font-size="6.4" font-weight="bold" fill="#111" stroke="#111" stroke-width="0.15">20</text><path d="M547.3 173.87H550.5" stroke="#1a1a1a" stroke-width="1.0"/><text x="546" y="176.17" text-anchor="end" font-size="6.4" font-weight="bold" fill="#111" stroke="#111" stroke-width="0.15">40</text><path d="M547.3 145.2H550.5" stroke="#1a1a1a" stroke-width="1.0"/><text x="546" y="147.5" text-anchor="end" font-size="6.4" font-weight="bold" fill="#111" stroke="#111" stroke-width="0.15">60</text><path d="M559.5 231.2v3.2" stroke="#1a1a1a" stroke-width="1.0"/><text x="559.5" y="241.9" text-anchor="middle" font-size="6.4" font-weight="bold" fill="#111" stroke="#111" stroke-width="0.15">1-2</text><path d="M577.93 231.2v3.2" stroke="#1a1a1a" stroke-width="1.0"/><text x="577.93" y="241.9" text-anchor="middle" font-size="6.4" font-weight="bold" fill="#111" stroke="#111" stroke-width="0.15">3</text><path d="M596.36 231.2v3.2" stroke="#1a1a1a" stroke-width="1.0"/><text x="596.36" y="241.9" text-anchor="middle" font-size="6.4" font-weight="bold" fill="#111" stroke="#111" stroke-width="0.15">4</text><path d="M614.79 231.2v3.2" stroke="#1a1a1a" stroke-width="1.0"/><text x="614.79" y="241.9" text-anchor="middle" font-size="6.4" font-weight="bold" fill="#111" stroke="#111" stroke-width="0.15">5</text><path d="M633.22 231.2v3.2" stroke="#1a1a1a" stroke-width="1.0"/><text x="633.22" y="241.9" text-anchor="middle" font-size="6.4" font-weight="bold" fill="#111" stroke="#111" stroke-width="0.15">6</text><path d="M651.65 231.2v3.2" stroke="#1a1a1a" stroke-width="1.0"/><text x="651.65" y="241.9" text-anchor="middle" font-size="6.4" font-weight="bold" fill="#111" stroke="#111" stroke-width="0.15">7</text><path d="M670.08 231.2v3.2" stroke="#1a1a1a" stroke-width="1.0"/><text x="670.08" y="241.9" text-anchor="middle" font-size="6.4" font-weight="bold" fill="#111" stroke="#111" stroke-width="0.15">8</text><text x="614.8" y="145.4" text-anchor="middle" font-size="7.1" font-weight="bold" fill="#111" stroke="#111" stroke-width="0.15">Erythrocyte Sedimentation Rate</text><text transform="translate(535.4 183.8) rotate(-90)" text-anchor="middle" font-size="7" font-weight="normal" fill="#1a1a1a">mm/h</text><path d="M559.5 218.4L577.93 167.5L596.36 218.4L614.79 196.5L651.65 163.6" fill="none" stroke="#d4708c" stroke-width="0.5"/><path d="M559.5 208.2L577.93 191L596.36 205.4L633.22 227.3L651.65 219.7" fill="none" stroke="#8a4590" stroke-width="0.55"/><path d="M559.5 215.3L577.93 199.6L596.36 162L614.79 225.5L651.65 195.4" fill="none" stroke="#40356c" stroke-width="0.5"/><path d="M559.5 216.9L577.93 196.2L596.36 182.4L633.22 204.8L651.65 202.4L670.08 205.9" fill="none" stroke="#1a1a1a" stroke-width="0.7"/><path d="M559.5 220.5L561.5 216.9L557.5 216.9Z" fill="#d9466e"/><path d="M577.93 169.6L579.93 166L575.93 166Z" fill="#d9466e"/><path d="M596.36 220.5L598.36 216.9L594.36 216.9Z" fill="#d9466e"/><path d="M614.79 198.6L616.79 195L612.79 195Z" fill="#d9466e"/><path d="M651.65 165.7L653.65 162.1L649.65 162.1Z" fill="#d9466e"/><path d="M559.5 206.1L561.5 209.7L557.5 209.7Z" fill="#822a86"/><path d="M577.93 188.9L579.93 192.5L575.93 192.5Z" fill="#822a86"/><path d="M596.36 203.3L598.36 206.9L594.36 206.9Z" fill="#822a86"/><path d="M633.22 225.2L635.22 228.8L631.22 228.8Z" fill="#822a86"/><path d="M651.65 217.6L653.65 221.2L649.65 221.2Z" fill="#822a86"/><rect x="557.75" y="213.55" width="3.5" height="3.5" fill="#3b0f7e"/><rect x="576.18" y="197.85" width="3.5" height="3.5" fill="#3b0f7e"/><rect x="594.61" y="160.25" width="3.5" height="3.5" fill="#3b0f7e"/><rect x="613.04" y="223.75" width="3.5" height="3.5" fill="#3b0f7e"/><rect x="649.9" y="193.65" width="3.5" height="3.5" fill="#3b0f7e"/><circle cx="559.5" cy="216.9" r="1.9" fill="#000000"/><circle cx="577.93" cy="196.2" r="1.9" fill="#000000"/><circle cx="596.36" cy="182.4" r="1.9" fill="#000000"/><circle cx="633.22" cy="204.8" r="1.9" fill="#000000"/><circle cx="651.65" cy="202.4" r="1.9" fill="#000000"/><circle cx="670.08" cy="205.9" r="1.9" fill="#000000"/></g><g><path d="M33.5 304.6V390.5H162.7" fill="none" stroke="#1a1a1a" stroke-width="1.2"/><path d="M30.3 390.5H33.5" stroke="#1a1a1a" stroke-width="1.0"/><text x="29" y="392.8" text-anchor="end" font-size="6.4" font-weight="bold" fill="#111" stroke="#111" stroke-width="0.15">0</text><path d="M30.3 369.02H33.5" stroke="#1a1a1a" stroke-width="1.0"/><text x="29" y="371.32" text-anchor="end" font-size="6.4" font-weight="bold" fill="#111" stroke="#111" stroke-width="0.15">10</text><path d="M30.3 347.55H33.5" stroke="#1a1a1a" stroke-width="1.0"/><text x="29" y="349.85" text-anchor="end" font-size="6.4" font-weight="bold" fill="#111" stroke="#111" stroke-width="0.15">20</text><path d="M30.3 326.08H33.5" stroke="#1a1a1a" stroke-width="1.0"/><text x="29" y="328.38" text-anchor="end" font-size="6.4" font-weight="bold" fill="#111" stroke="#111" stroke-width="0.15">30</text><path d="M30.3 304.6H33.5" stroke="#1a1a1a" stroke-width="1.0"/><text x="29" y="306.9" text-anchor="end" font-size="6.4" font-weight="bold" fill="#111" stroke="#111" stroke-width="0.15">40</text><path d="M43 390.5v3.2" stroke="#1a1a1a" stroke-width="1.0"/><text x="43" y="401.2" text-anchor="middle" font-size="6.4" font-weight="bold" fill="#111" stroke="#111" stroke-width="0.15">1-2</text><path d="M61.38 390.5v3.2" stroke="#1a1a1a" stroke-width="1.0"/><text x="61.38" y="401.2" text-anchor="middle" font-size="6.4" font-weight="bold" fill="#111" stroke="#111" stroke-width="0.15">3</text><path d="M79.76 390.5v3.2" stroke="#1a1a1a" stroke-width="1.0"/><text x="79.76" y="401.2" text-anchor="middle" font-size="6.4" font-weight="bold" fill="#111" stroke="#111" stroke-width="0.15">4</text><path d="M98.14 390.5v3.2" stroke="#1a1a1a" stroke-width="1.0"/><text x="98.14" y="401.2" text-anchor="middle" font-size="6.4" font-weight="bold" fill="#111" stroke="#111" stroke-width="0.15">5</text><path d="M116.52 390.5v3.2" stroke="#1a1a1a" stroke-width="1.0"/><text x="116.52" y="401.2" text-anchor="middle" font-size="6.4" font-weight="bold" fill="#111" stroke="#111" stroke-width="0.15">6</text><path d="M134.9 390.5v3.2" stroke="#1a1a1a" stroke-width="1.0"/><text x="134.9" y="401.2" text-anchor="middle" font-size="6.4" font-weight="bold" fill="#111" stroke="#111" stroke-width="0.15">7</text><path d="M153.28 390.5v3.2" stroke="#1a1a1a" stroke-width="1.0"/><text x="153.28" y="401.2" text-anchor="middle" font-size="6.4" font-weight="bold" fill="#111" stroke="#111" stroke-width="0.15">8</text><text x="97.75" y="293.6" text-anchor="middle" font-size="6.85" font-weight="bold" fill="#111" stroke="#111" stroke-width="0.15">Urea</text><text transform="translate(16.94 346.9) rotate(-90)" text-anchor="middle" font-size="6.8" font-weight="bold" fill="#1a1a1a" stroke="#1a1a1a" stroke-width="0.15">mg/dl</text><path d="M43 346L61.38 344.3L79.76 338.8L98.14 344.8L116.52 344.3L134.9 363.7L153.28 347.4" fill="none" stroke="#d4708c" stroke-width="0.5"/><path d="M43 345.3L61.38 344.8L79.76 346L98.14 352L116.52 344.3L134.9 341.3" fill="none" stroke="#8a4590" stroke-width="0.55"/><path d="M43 350.8L61.38 341.6L79.76 346L98.14 345.7L116.52 356.4L134.9 351L153.28 358.6" fill="none" stroke="#40356c" stroke-width="0.5"/><path d="M43 344.3L61.38 348.1L79.76 341L98.14 353.2L116.52 353.6L134.9 327L153.28 345.8" fill="none" stroke="#1a1a1a" stroke-width="0.7"/><path d="M43 348.1L45 344.5L41 344.5Z" fill="#d9466e"/><path d="M61.38 346.4L63.38 342.8L59.38 342.8Z" fill="#d9466e"/><path d="M79.76 340.9L81.76 337.3L77.76 337.3Z" fill="#d9466e"/><path d="M98.14 346.9L100.14 343.3L96.14 343.3Z" fill="#d9466e"/><path d="M116.52 346.4L118.52 342.8L114.52 342.8Z" fill="#d9466e"/><path d="M134.9 365.8L136.9 362.2L132.9 362.2Z" fill="#d9466e"/><path d="M153.28 349.5L155.28 345.9L151.28 345.9Z" fill="#d9466e"/><path d="M43 343.2L45 346.8L41 346.8Z" fill="#822a86"/><path d="M61.38 342.7L63.38 346.3L59.38 346.3Z" fill="#822a86"/><path d="M79.76 343.9L81.76 347.5L77.76 347.5Z" fill="#822a86"/><path d="M98.14 349.9L100.14 353.5L96.14 353.5Z" fill="#822a86"/><path d="M116.52 342.2L118.52 345.8L114.52 345.8Z" fill="#822a86"/><path d="M134.9 339.2L136.9 342.8L132.9 342.8Z" fill="#822a86"/><rect x="41.25" y="349.05" width="3.5" height="3.5" fill="#3b0f7e"/><rect x="59.63" y="339.85" width="3.5" height="3.5" fill="#3b0f7e"/><rect x="78.01" y="344.25" width="3.5" height="3.5" fill="#3b0f7e"/><rect x="96.39" y="343.95" width="3.5" height="3.5" fill="#3b0f7e"/><rect x="114.77" y="354.65" width="3.5" height="3.5" fill="#3b0f7e"/><rect x="133.15" y="349.25" width="3.5" height="3.5" fill="#3b0f7e"/><rect x="151.53" y="356.85" width="3.5" height="3.5" fill="#3b0f7e"/><circle cx="43" cy="344.3" r="1.9" fill="#000000"/><circle cx="61.38" cy="348.1" r="1.9" fill="#000000"/><circle cx="79.76" cy="341" r="1.9" fill="#000000"/><circle cx="98.14" cy="353.2" r="1.9" fill="#000000"/><circle cx="116.52" cy="353.6" r="1.9" fill="#000000"/><circle cx="134.9" cy="327" r="1.9" fill="#000000"/><circle cx="153.28" cy="345.8" r="1.9" fill="#000000"/></g><g><path d="M204.5 298.1V382.5H330.4" fill="none" stroke="#1a1a1a" stroke-width="1.2"/><path d="M201.3 382.5H204.5" stroke="#1a1a1a" stroke-width="1.0"/><text x="200" y="384.8" text-anchor="end" font-size="6.4" font-weight="bold" fill="#111" stroke="#111" stroke-width="0.15">0</text><path d="M201.3 365.62H204.5" stroke="#1a1a1a" stroke-width="1.0"/><text x="200" y="367.92" text-anchor="end" font-size="6.4" font-weight="bold" fill="#111" stroke="#111" stroke-width="0.15">10</text><path d="M201.3 348.74H204.5" stroke="#1a1a1a" stroke-width="1.0"/><text x="200" y="351.04" text-anchor="end" font-size="6.4" font-weight="bold" fill="#111" stroke="#111" stroke-width="0.15">20</text><path d="M201.3 331.86H204.5" stroke="#1a1a1a" stroke-width="1.0"/><text x="200" y="334.16" text-anchor="end" font-size="6.4" font-weight="bold" fill="#111" stroke="#111" stroke-width="0.15">30</text><path d="M201.3 314.98H204.5" stroke="#1a1a1a" stroke-width="1.0"/><text x="200" y="317.28" text-anchor="end" font-size="6.4" font-weight="bold" fill="#111" stroke="#111" stroke-width="0.15">40</text><path d="M201.3 298.1H204.5" stroke="#1a1a1a" stroke-width="1.0"/><text x="200" y="300.4" text-anchor="end" font-size="6.4" font-weight="bold" fill="#111" stroke="#111" stroke-width="0.15">50</text><path d="M213.5 382.5v3.2" stroke="#1a1a1a" stroke-width="1.0"/><text x="213.5" y="393.2" text-anchor="middle" font-size="6.4" font-weight="bold" fill="#111" stroke="#111" stroke-width="0.15">1-2</text><path d="M231.55 382.5v3.2" stroke="#1a1a1a" stroke-width="1.0"/><text x="231.55" y="393.2" text-anchor="middle" font-size="6.4" font-weight="bold" fill="#111" stroke="#111" stroke-width="0.15">3</text><path d="M249.6 382.5v3.2" stroke="#1a1a1a" stroke-width="1.0"/><text x="249.6" y="393.2" text-anchor="middle" font-size="6.4" font-weight="bold" fill="#111" stroke="#111" stroke-width="0.15">4</text><path d="M267.65 382.5v3.2" stroke="#1a1a1a" stroke-width="1.0"/><text x="267.65" y="393.2" text-anchor="middle" font-size="6.4" font-weight="bold" fill="#111" stroke="#111" stroke-width="0.15">5</text><path d="M285.7 382.5v3.2" stroke="#1a1a1a" stroke-width="1.0"/><text x="285.7" y="393.2" text-anchor="middle" font-size="6.4" font-weight="bold" fill="#111" stroke="#111" stroke-width="0.15">6</text><path d="M303.75 382.5v3.2" stroke="#1a1a1a" stroke-width="1.0"/><text x="303.75" y="393.2" text-anchor="middle" font-size="6.4" font-weight="bold" fill="#111" stroke="#111" stroke-width="0.15">7</text><path d="M321.8 382.5v3.2" stroke="#1a1a1a" stroke-width="1.0"/><text x="321.8" y="393.2" text-anchor="middle" font-size="6.4" font-weight="bold" fill="#111" stroke="#111" stroke-width="0.15">8</text><text x="267.2" y="294.7" text-anchor="middle" font-size="8.3" font-weight="bold" fill="#111" stroke="#111" stroke-width="0.15">C-reactive protein</text><text transform="translate(184.95 337.9) rotate(-90)" text-anchor="middle" font-size="7.6" font-weight="bold" fill="#1a1a1a" stroke="#1a1a1a" stroke-width="0.15">mg/dl</text><path d="M213.5 373.5L231.55 353.6L249.6 351.8L267.65 332L285.7 304.8L303.75 308.6L321.8 376.4" fill="none" stroke="#d4708c" stroke-width="0.5"/><path d="M213.5 357.9L231.55 340.1L249.6 361.4L267.65 371L285.7 355.7L303.75 374" fill="none" stroke="#8a4590" stroke-width="0.55"/><path d="M213.5 361.4L231.55 310L249.6 350.1L267.65 371L285.7 374L303.75 330.8L321.8 365.3" fill="none" stroke="#40356c" stroke-width="0.5"/><path d="M213.5 370.5L231.55 351.5L249.6 354.4L267.65 346.7L285.7 342L303.75 369.1L321.8 345.8" fill="none" stroke="#1a1a1a" stroke-width="0.7"/><path d="M213.5 375.6L215.5 372L211.5 372Z" fill="#d9466e"/><path d="M231.55 355.7L233.55 352.1L229.55 352.1Z" fill="#d9466e"/><path d="M249.6 353.9L251.6 350.3L247.6 350.3Z" fill="#d9466e"/><path d="M267.65 334.1L269.65 330.5L265.65 330.5Z" fill="#d9466e"/><path d="M285.7 306.9L287.7 303.3L283.7 303.3Z" fill="#d9466e"/><path d="M303.75 310.7L305.75 307.1L301.75 307.1Z" fill="#d9466e"/><path d="M321.8 378.5L323.8 374.9L319.8 374.9Z" fill="#d9466e"/><path d="M213.5 355.8L215.5 359.4L211.5 359.4Z" fill="#822a86"/><path d="M231.55 338L233.55 341.6L229.55 341.6Z" fill="#822a86"/><path d="M249.6 359.3L251.6 362.9L247.6 362.9Z" fill="#822a86"/><path d="M267.65 368.9L269.65 372.5L265.65 372.5Z" fill="#822a86"/><path d="M285.7 353.6L287.7 357.2L283.7 357.2Z" fill="#822a86"/><path d="M303.75 371.9L305.75 375.5L301.75 375.5Z" fill="#822a86"/><rect x="211.75" y="359.65" width="3.5" height="3.5" fill="#3b0f7e"/><rect x="229.8" y="308.25" width="3.5" height="3.5" fill="#3b0f7e"/><rect x="247.85" y="348.35" width="3.5" height="3.5" fill="#3b0f7e"/><rect x="265.9" y="369.25" width="3.5" height="3.5" fill="#3b0f7e"/><rect x="283.95" y="372.25" width="3.5" height="3.5" fill="#3b0f7e"/><rect x="302" y="329.05" width="3.5" height="3.5" fill="#3b0f7e"/><rect x="320.05" y="363.55" width="3.5" height="3.5" fill="#3b0f7e"/><circle cx="213.5" cy="370.5" r="1.9" fill="#000000"/><circle cx="231.55" cy="351.5" r="1.9" fill="#000000"/><circle cx="249.6" cy="354.4" r="1.9" fill="#000000"/><circle cx="267.65" cy="346.7" r="1.9" fill="#000000"/><circle cx="285.7" cy="342" r="1.9" fill="#000000"/><circle cx="303.75" cy="369.1" r="1.9" fill="#000000"/><circle cx="321.8" cy="345.8" r="1.9" fill="#000000"/></g><g><path d="M384.5 304.2V389.3H510.7" fill="none" stroke="#1a1a1a" stroke-width="1.2"/><path d="M381.3 389.3H384.5" stroke="#1a1a1a" stroke-width="1.0"/><text x="380" y="391.6" text-anchor="end" font-size="6.4" font-weight="bold" fill="#111" stroke="#111" stroke-width="0.15">98.0</text><path d="M381.3 375.12H384.5" stroke="#1a1a1a" stroke-width="1.0"/><text x="380" y="377.42" text-anchor="end" font-size="6.4" font-weight="bold" fill="#111" stroke="#111" stroke-width="0.15">98.5</text><path d="M381.3 360.93H384.5" stroke="#1a1a1a" stroke-width="1.0"/><text x="380" y="363.23" text-anchor="end" font-size="6.4" font-weight="bold" fill="#111" stroke="#111" stroke-width="0.15">99.0</text><path d="M381.3 346.75H384.5" stroke="#1a1a1a" stroke-width="1.0"/><text x="380" y="349.05" text-anchor="end" font-size="6.4" font-weight="bold" fill="#111" stroke="#111" stroke-width="0.15">99.5</text><path d="M381.3 332.57H384.5" stroke="#1a1a1a" stroke-width="1.0"/><text x="380" y="334.87" text-anchor="end" font-size="6.4" font-weight="bold" fill="#111" stroke="#111" stroke-width="0.15">100.0</text><path d="M381.3 318.38H384.5" stroke="#1a1a1a" stroke-width="1.0"/><text x="380" y="320.68" text-anchor="end" font-size="6.4" font-weight="bold" fill="#111" stroke="#111" stroke-width="0.15">100.5</text><path d="M381.3 304.2H384.5" stroke="#1a1a1a" stroke-width="1.0"/><text x="380" y="306.5" text-anchor="end" font-size="6.4" font-weight="bold" fill="#111" stroke="#111" stroke-width="0.15">101.0</text><path d="M393.5 389.3v3.2" stroke="#1a1a1a" stroke-width="1.0"/><text x="393.5" y="400" text-anchor="middle" font-size="6.4" font-weight="bold" fill="#111" stroke="#111" stroke-width="0.15">1-2</text><path d="M411.68 389.3v3.2" stroke="#1a1a1a" stroke-width="1.0"/><text x="411.68" y="400" text-anchor="middle" font-size="6.4" font-weight="bold" fill="#111" stroke="#111" stroke-width="0.15">3</text><path d="M429.86 389.3v3.2" stroke="#1a1a1a" stroke-width="1.0"/><text x="429.86" y="400" text-anchor="middle" font-size="6.4" font-weight="bold" fill="#111" stroke="#111" stroke-width="0.15">4</text><path d="M448.04 389.3v3.2" stroke="#1a1a1a" stroke-width="1.0"/><text x="448.04" y="400" text-anchor="middle" font-size="6.4" font-weight="bold" fill="#111" stroke="#111" stroke-width="0.15">5</text><path d="M466.22 389.3v3.2" stroke="#1a1a1a" stroke-width="1.0"/><text x="466.22" y="400" text-anchor="middle" font-size="6.4" font-weight="bold" fill="#111" stroke="#111" stroke-width="0.15">6</text><path d="M484.4 389.3v3.2" stroke="#1a1a1a" stroke-width="1.0"/><text x="484.4" y="400" text-anchor="middle" font-size="6.4" font-weight="bold" fill="#111" stroke="#111" stroke-width="0.15">7</text><path d="M502.58 389.3v3.2" stroke="#1a1a1a" stroke-width="1.0"/><text x="502.58" y="400" text-anchor="middle" font-size="6.4" font-weight="bold" fill="#111" stroke="#111" stroke-width="0.15">8</text><text x="447.45" y="293.6" text-anchor="middle" font-size="6.95" font-weight="bold" fill="#111" stroke="#111" stroke-width="0.15">Body temperature</text><text transform="translate(360.36 346.7) rotate(-90)" text-anchor="middle" font-size="6.9" font-weight="bold" fill="#1a1a1a" stroke="#1a1a1a" stroke-width="0.15">Temperature F</text><path d="M393.5 371.3L411.68 336.3L429.86 343.9L448.04 352L466.22 374.8L484.4 346.2L502.58 346.2" fill="none" stroke="#d4708c" stroke-width="0.5"/><path d="M393.5 332.5L411.68 335.5L429.86 369.4L448.04 350.8L466.22 335.5L484.4 344.7" fill="none" stroke="#8a4590" stroke-width="0.55"/><path d="M393.5 329.4L411.68 332.5L429.86 329.9L448.04 329.8L466.22 315.7L484.4 335.5L502.58 332.5" fill="none" stroke="#40356c" stroke-width="0.5"/><path d="M393.5 337L411.68 338.1L429.86 327.1L448.04 349.7L466.22 338.1L484.4 359.6L502.58 338.1" fill="none" stroke="#1a1a1a" stroke-width="0.7"/><path d="M393.5 373.4L395.5 369.8L391.5 369.8Z" fill="#d9466e"/><path d="M411.68 338.4L413.68 334.8L409.68 334.8Z" fill="#d9466e"/><path d="M429.86 346L431.86 342.4L427.86 342.4Z" fill="#d9466e"/><path d="M448.04 354.1L450.04 350.5L446.04 350.5Z" fill="#d9466e"/><path d="M466.22 376.9L468.22 373.3L464.22 373.3Z" fill="#d9466e"/><path d="M484.4 348.3L486.4 344.7L482.4 344.7Z" fill="#d9466e"/><path d="M502.58 348.3L504.58 344.7L500.58 344.7Z" fill="#d9466e"/><path d="M393.5 330.4L395.5 334L391.5 334Z" fill="#822a86"/><path d="M411.68 333.4L413.68 337L409.68 337Z" fill="#822a86"/><path d="M429.86 367.3L431.86 370.9L427.86 370.9Z" fill="#822a86"/><path d="M448.04 348.7L450.04 352.3L446.04 352.3Z" fill="#822a86"/><path d="M466.22 333.4L468.22 337L464.22 337Z" fill="#822a86"/><path d="M484.4 342.6L486.4 346.2L482.4 346.2Z" fill="#822a86"/><rect x="391.75" y="327.65" width="3.5" height="3.5" fill="#3b0f7e"/><rect x="409.93" y="330.75" width="3.5" height="3.5" fill="#3b0f7e"/><rect x="428.11" y="328.15" width="3.5" height="3.5" fill="#3b0f7e"/><rect x="446.29" y="328.05" width="3.5" height="3.5" fill="#3b0f7e"/><rect x="464.47" y="313.95" width="3.5" height="3.5" fill="#3b0f7e"/><rect x="482.65" y="333.75" width="3.5" height="3.5" fill="#3b0f7e"/><rect x="500.83" y="330.75" width="3.5" height="3.5" fill="#3b0f7e"/><circle cx="393.5" cy="337" r="1.9" fill="#000000"/><circle cx="411.68" cy="338.1" r="1.9" fill="#000000"/><circle cx="429.86" cy="327.1" r="1.9" fill="#000000"/><circle cx="448.04" cy="349.7" r="1.9" fill="#000000"/><circle cx="466.22" cy="338.1" r="1.9" fill="#000000"/><circle cx="484.4" cy="359.6" r="1.9" fill="#000000"/><circle cx="502.58" cy="338.1" r="1.9" fill="#000000"/></g><g><path d="M553.1 304.4V388.2H679.4" fill="none" stroke="#1a1a1a" stroke-width="1.2"/><path d="M549.9 388.2H553.1" stroke="#1a1a1a" stroke-width="1.0"/><text x="548.6" y="390.5" text-anchor="end" font-size="6.4" font-weight="bold" fill="#111" stroke="#111" stroke-width="0.15">0.6</text><path d="M549.9 371.44H553.1" stroke="#1a1a1a" stroke-width="1.0"/><text x="548.6" y="373.74" text-anchor="end" font-size="6.4" font-weight="bold" fill="#111" stroke="#111" stroke-width="0.15">0.7</text><path d="M549.9 354.68H553.1" stroke="#1a1a1a" stroke-width="1.0"/><text x="548.6" y="356.98" text-anchor="end" font-size="6.4" font-weight="bold" fill="#111" stroke="#111" stroke-width="0.15">0.8</text><path d="M549.9 337.92H553.1" stroke="#1a1a1a" stroke-width="1.0"/><text x="548.6" y="340.22" text-anchor="end" font-size="6.4" font-weight="bold" fill="#111" stroke="#111" stroke-width="0.15">0.9</text><path d="M549.9 321.16H553.1" stroke="#1a1a1a" stroke-width="1.0"/><text x="548.6" y="323.46" text-anchor="end" font-size="6.4" font-weight="bold" fill="#111" stroke="#111" stroke-width="0.15">1.0</text><path d="M549.9 304.4H553.1" stroke="#1a1a1a" stroke-width="1.0"/><text x="548.6" y="306.7" text-anchor="end" font-size="6.4" font-weight="bold" fill="#111" stroke="#111" stroke-width="0.15">1.1</text><path d="M562.4 388.2v3.2" stroke="#1a1a1a" stroke-width="1.0"/><text x="562.4" y="398.9" text-anchor="middle" font-size="6.4" font-weight="bold" fill="#111" stroke="#111" stroke-width="0.15">1-2</text><path d="M580.38 388.2v3.2" stroke="#1a1a1a" stroke-width="1.0"/><text x="580.38" y="398.9" text-anchor="middle" font-size="6.4" font-weight="bold" fill="#111" stroke="#111" stroke-width="0.15">3</text><path d="M598.36 388.2v3.2" stroke="#1a1a1a" stroke-width="1.0"/><text x="598.36" y="398.9" text-anchor="middle" font-size="6.4" font-weight="bold" fill="#111" stroke="#111" stroke-width="0.15">4</text><path d="M616.34 388.2v3.2" stroke="#1a1a1a" stroke-width="1.0"/><text x="616.34" y="398.9" text-anchor="middle" font-size="6.4" font-weight="bold" fill="#111" stroke="#111" stroke-width="0.15">5</text><path d="M634.32 388.2v3.2" stroke="#1a1a1a" stroke-width="1.0"/><text x="634.32" y="398.9" text-anchor="middle" font-size="6.4" font-weight="bold" fill="#111" stroke="#111" stroke-width="0.15">6</text><path d="M652.3 388.2v3.2" stroke="#1a1a1a" stroke-width="1.0"/><text x="652.3" y="398.9" text-anchor="middle" font-size="6.4" font-weight="bold" fill="#111" stroke="#111" stroke-width="0.15">7</text><path d="M670.28 388.2v3.2" stroke="#1a1a1a" stroke-width="1.0"/><text x="670.28" y="398.9" text-anchor="middle" font-size="6.4" font-weight="bold" fill="#111" stroke="#111" stroke-width="0.15">8</text><text x="616.15" y="293.4" text-anchor="middle" font-size="6.75" font-weight="bold" fill="#111" stroke="#111" stroke-width="0.15">Creatinine</text><text transform="translate(533.84 342.5) rotate(-90)" text-anchor="middle" font-size="6.8" font-weight="bold" fill="#1a1a1a" stroke="#1a1a1a" stroke-width="0.15">mg/dl</text><path d="M562.4 316.9L580.38 328.9L598.36 334.7L616.34 344.3L634.32 331.2L652.3 355.8L670.28 359.1" fill="none" stroke="#d4708c" stroke-width="0.5"/><path d="M562.4 337.8L580.38 337.8L598.36 331.4L616.34 356.5L634.32 319.8L652.3 345" fill="none" stroke="#8a4590" stroke-width="0.55"/><path d="M562.4 344.7L580.38 312.6L598.36 336.3L616.34 337.5L634.32 369.8L652.3 371.3L670.28 374.7" fill="none" stroke="#40356c" stroke-width="0.5"/><path d="M562.4 358.1L580.38 356.4L598.36 336.3L616.34 349.5L634.32 351.1L652.3 329.4L670.28 369.8" fill="none" stroke="#1a1a1a" stroke-width="0.7"/><path d="M562.4 319L564.4 315.4L560.4 315.4Z" fill="#d9466e"/><path d="M580.38 331L582.38 327.4L578.38 327.4Z" fill="#d9466e"/><path d="M598.36 336.8L600.36 333.2L596.36 333.2Z" fill="#d9466e"/><path d="M616.34 346.4L618.34 342.8L614.34 342.8Z" fill="#d9466e"/><path d="M634.32 333.3L636.32 329.7L632.32 329.7Z" fill="#d9466e"/><path d="M652.3 357.9L654.3 354.3L650.3 354.3Z" fill="#d9466e"/><path d="M670.28 361.2L672.28 357.6L668.28 357.6Z" fill="#d9466e"/><path d="M562.4 335.7L564.4 339.3L560.4 339.3Z" fill="#822a86"/><path d="M580.38 335.7L582.38 339.3L578.38 339.3Z" fill="#822a86"/><path d="M598.36 329.3L600.36 332.9L596.36 332.9Z" fill="#822a86"/><path d="M616.34 354.4L618.34 358L614.34 358Z" fill="#822a86"/><path d="M634.32 317.7L636.32 321.3L632.32 321.3Z" fill="#822a86"/><path d="M652.3 342.9L654.3 346.5L650.3 346.5Z" fill="#822a86"/><rect x="560.65" y="342.95" width="3.5" height="3.5" fill="#3b0f7e"/><rect x="578.63" y="310.85" width="3.5" height="3.5" fill="#3b0f7e"/><rect x="596.61" y="334.55" width="3.5" height="3.5" fill="#3b0f7e"/><rect x="614.59" y="335.75" width="3.5" height="3.5" fill="#3b0f7e"/><rect x="632.57" y="368.05" width="3.5" height="3.5" fill="#3b0f7e"/><rect x="650.55" y="369.55" width="3.5" height="3.5" fill="#3b0f7e"/><rect x="668.53" y="372.95" width="3.5" height="3.5" fill="#3b0f7e"/><circle cx="562.4" cy="358.1" r="1.9" fill="#000000"/><circle cx="580.38" cy="356.4" r="1.9" fill="#000000"/><circle cx="598.36" cy="336.3" r="1.9" fill="#000000"/><circle cx="616.34" cy="349.5" r="1.9" fill="#000000"/><circle cx="634.32" cy="351.1" r="1.9" fill="#000000"/><circle cx="652.3" cy="329.4" r="1.9" fill="#000000"/><circle cx="670.28" cy="369.8" r="1.9" fill="#000000"/></g>
<text x="196.1" y="438.4" font-size="17" font-weight="bold" textLength="206.4" lengthAdjust="spacingAndGlyphs" fill="#111">Post day onset of illness</text><path d="M17.9 478.0H40.7" stroke="#1a1a1a" stroke-width="1.3"/><circle cx="29.3" cy="478" r="3.99" fill="#000000"/><text x="53.8" y="484.9" font-size="17" fill="#111">HMPV</text><path d="M121.9 478.0H145" stroke="#40356c" stroke-width="1.3"/><rect x="129.77" y="474.32" width="7.35" height="7.35" fill="#3b0f7e"/><text x="158.4" y="484.9" font-size="17" textLength="145.7" lengthAdjust="spacingAndGlyphs" fill="#111">Influenza A (H3N2)</text><path d="M328.1 478.0H350.9" stroke="#8a4590" stroke-width="1.3"/><path d="M339.5 473.59L343.7 481.15L335.3 481.15Z" fill="#822a86"/><text x="364.6" y="484.9" font-size="17" textLength="145" lengthAdjust="spacingAndGlyphs" fill="#111">Influenza A (H1N1)</text><path d="M537.9 478.0H560.6" stroke="#d4708c" stroke-width="1.3"/><path d="M549.25 482.41L553.45 474.85L545.05 474.85Z" fill="#d9466e"/><text x="574.3" y="484.9" font-size="17" textLength="43.9" lengthAdjust="spacingAndGlyphs" fill="#111">hRSV</text>
</svg>
</body></html>
